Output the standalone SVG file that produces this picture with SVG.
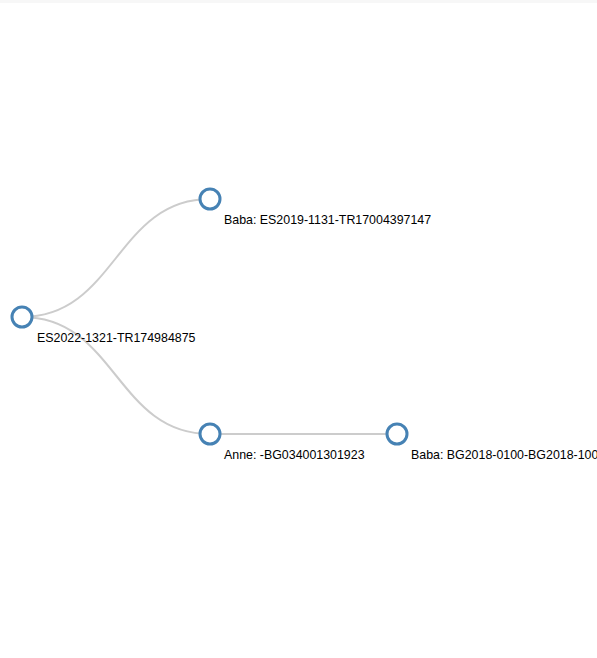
<svg xmlns="http://www.w3.org/2000/svg" width="597" height="658" viewBox="0 0 597 658">
<style>
.link{fill:none;stroke:#ccc;stroke-width:2}
.node circle{fill:#fff;stroke:steelblue;stroke-width:3}
.node text{font-family:"Liberation Sans",Arial,sans-serif;font-size:12.4px;fill:#000}
</style>
<rect width="597" height="658" fill="#fff"/>
<rect width="597" height="3" fill="#f7f7f7"/>
<g id="links">
<path class="link" d="M22,317C116,317 116,199 210,199"/>
<path class="link" d="M22,317C116,317 116,434 210,434"/>
<path class="link" d="M210,434C303.5,434 303.5,434 397,434"/>
</g>
<g id="node-root" class="node"><circle cx="22" cy="317" r="10"/><text x="37" y="342">ES2022-1321-TR174984875</text></g>
<g id="node-baba1" class="node"><circle cx="210" cy="199" r="10"/><text x="224" y="224">Baba: ES2019-1131-TR17004397147</text></g>
<g id="node-anne" class="node"><circle cx="210" cy="434" r="10"/><text x="224" y="459">Anne: -BG034001301923</text></g>
<g id="node-baba2" class="node"><circle cx="397" cy="434" r="10"/><text x="411" y="459">Baba: BG2018-0100-BG2018-100</text></g>
</svg>
